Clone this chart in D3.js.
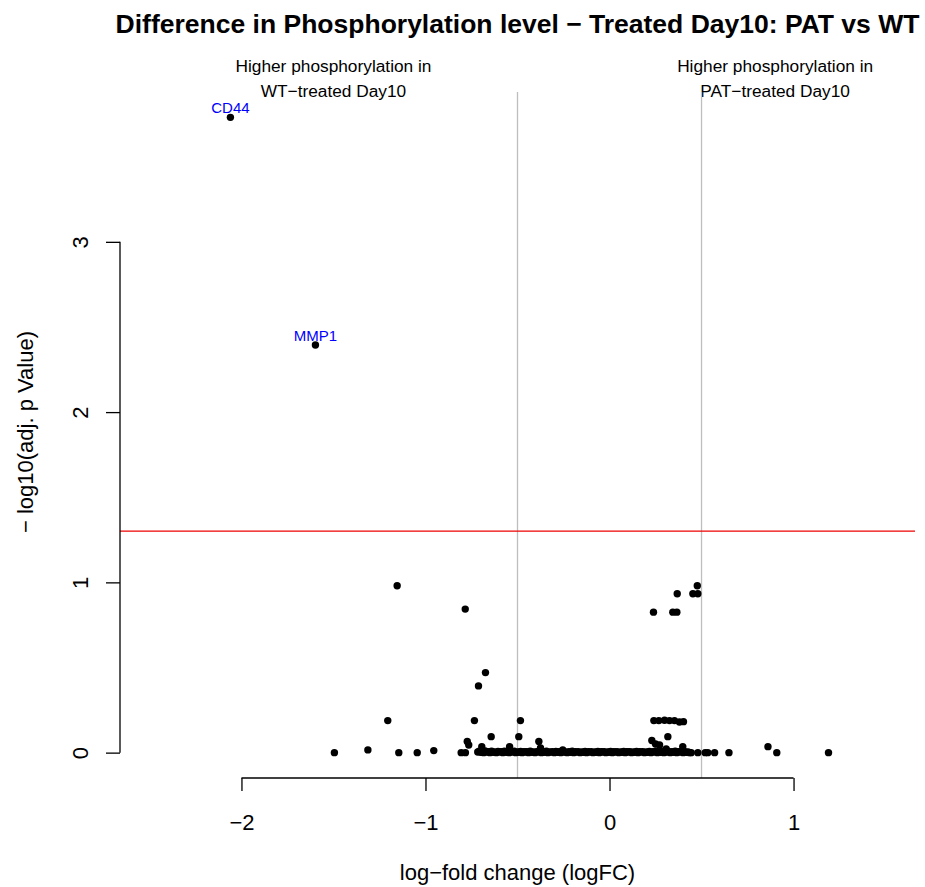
<!DOCTYPE html>
<html>
<head>
<meta charset="utf-8">
<script src="https://cdn.jsdelivr.net/npm/d3@7"></script>
<style>
body{margin:0;background:#fff;}
svg{display:block;font-family:"Liberation Sans",Arial,Helvetica,sans-serif;}
</style>
</head>
<body>
<svg id="chart" width="925" height="887"></svg>
<script>
// ---- data ----
const genes = ["CD44", "MMP1"];
const geneLogFC = [-2.06, -1.598];
const geneNegLogP = [3.731, 2.394];

const logFC = [
 -1.154, -0.784, -0.674, -0.712, -1.205, -0.734, -0.484, -0.493, -0.643, -0.384,
 -0.773, -0.765, -0.694, -0.543, -0.375, -0.254,
 -1.495, -1.313, -1.145, -1.045, -0.955, -0.806, -0.783,
 0.477, 0.368, 0.453, 0.480, 0.239, 0.344, 0.366,
 0.241, 0.268, 0.299, 0.326, 0.353, 0.380, 0.402,
 0.317, 0.230, 0.250, 0.272, 0.308, 0.398, 0.861,
 0.480, 0.520, 0.534, 0.571, 0.649, 0.909, 1.190
];
const negLogP = [
 0.980, 0.843, 0.470, 0.392, 0.188, 0.188, 0.188, 0.094, 0.094, 0.065,
 0.065, 0.045, 0.035, 0.035, 0.027, 0.016,
 0.000, 0.016, 0.000, 0.000, 0.012, 0.000, 0.000,
 0.980, 0.933, 0.933, 0.933, 0.825, 0.825, 0.825,
 0.188, 0.188, 0.190, 0.188, 0.188, 0.180, 0.182,
 0.094, 0.071, 0.051, 0.045, 0.022, 0.035, 0.035,
 0.000, 0.000, 0.000, 0.000, 0.000, 0.000, 0.000
];
// dense band of non-significant features near -log10(p) = 0
const bandLogFC = [
 -0.716, -0.700, -0.684, -0.668, -0.650, -0.633, -0.615, -0.598, -0.580, -0.562,
 -0.545, -0.527, -0.510, -0.492, -0.475, -0.458, -0.440, -0.422, -0.405, -0.388,
 -0.370, -0.352, -0.335, -0.318, -0.300, -0.282, -0.265, -0.248, -0.230, -0.212,
 -0.195, -0.178, -0.160, -0.142, -0.125, -0.108, -0.090, -0.072, -0.055, -0.038,
 -0.020, -0.003, 0.015, 0.032, 0.050, 0.068, 0.085, 0.102, 0.120, 0.138,
 0.155, 0.172, 0.190, 0.208, 0.225, 0.242, 0.260, 0.278, 0.295, 0.312,
 0.330, 0.348, 0.365, 0.382, 0.400, 0.418, 0.435, 0.444
];
const bandNegLogP = [
 0.004, 0.002, 0.000, 0.003, 0.000, 0.002, 0.000, 0.004, 0.000, 0.002,
 0.000, 0.003, 0.000, 0.002, 0.000, 0.004, 0.000, 0.002, 0.000, 0.003,
 0.000, 0.002, 0.000, 0.003, 0.000, 0.002, 0.000, 0.004, 0.000, 0.002,
 0.000, 0.003, 0.000, 0.002, 0.000, 0.003, 0.000, 0.002, 0.000, 0.004,
 0.000, 0.002, 0.000, 0.003, 0.000, 0.002, 0.000, 0.004, 0.000, 0.002,
 0.000, 0.003, 0.000, 0.002, 0.000, 0.003, 0.000, 0.002, 0.000, 0.004,
 0.000, 0.002, 0.000, 0.003, 0.000, 0.002, 0.000, 0.000
];
const band2LogFC = [
 -0.708, -0.692, -0.676, -0.659, -0.641, -0.624, -0.606, -0.589, -0.571, -0.553,
 -0.536, -0.518, -0.501, -0.483, -0.466, -0.449, -0.431, -0.413, -0.396, -0.379,
 -0.361, -0.343, -0.326, -0.309, -0.291, -0.273, -0.256, -0.239, -0.221, -0.203,
 -0.186, -0.169, -0.151, -0.133, -0.116, -0.099, -0.081, -0.063, -0.046, -0.029,
 -0.011, 0.006, 0.024, 0.041, 0.059, 0.077, 0.094, 0.111, 0.129, 0.147,
 0.164, 0.181, 0.199, 0.217, 0.234, 0.251, 0.269, 0.287, 0.304, 0.321,
 0.339, 0.357, 0.374, 0.391, 0.409, 0.427
];
const band2NegLogP = [
 0.008, 0.006, 0.010, 0.005, 0.008, 0.004, 0.007, 0.006, 0.009, 0.005,
 0.006, 0.008, 0.004, 0.007, 0.006, 0.005, 0.008, 0.004, 0.006, 0.007,
 0.005, 0.008, 0.004, 0.006, 0.007, 0.005, 0.008, 0.004, 0.006, 0.009,
 0.005, 0.006, 0.004, 0.007, 0.005, 0.006, 0.004, 0.007, 0.005, 0.006,
 0.004, 0.007, 0.005, 0.006, 0.004, 0.007, 0.005, 0.006, 0.004, 0.007,
 0.005, 0.006, 0.004, 0.007, 0.005, 0.008, 0.006, 0.009, 0.005, 0.007,
 0.006, 0.008, 0.005, 0.007, 0.006, 0.004
];
const xTicks = [-2, -1, 0, 1];
const yTicks = [0, 1, 2, 3];
const fcCutoffs = [-0.5, 0.5];
const pCutoff = 1.301; // -log10(0.05)
const titleText = "Difference in Phosphorylation level \u2212 Treated Day10: PAT vs WT";
const xLabel = "log\u2212fold change (logFC)";
const yLabel = "\u2212 log10(adj. p Value)";
const leftNote = ["Higher phosphorylation in", "WT\u2212treated Day10"];
const rightNote = ["Higher phosphorylation in", "PAT\u2212treated Day10"];

// ---- layout ----
const svg = d3.select("#chart");
const L = 120, R = 915, T = 92, B = 778;
const x = d3.scaleLinear().domain([-2.66, 1.66]).range([L, R]);
const y = d3.scaleLinear().domain([-0.149, 3.880]).range([B, T]);
const FONT = "Liberation Sans, Arial, sans-serif";

// title
svg.append("text").attr("x", (L + R) / 2).attr("y", 33)
  .attr("text-anchor", "middle").attr("font-weight", "bold").attr("font-size", 26.5)
  .text(titleText);

// notes
function note(lines, cx) {
  lines.forEach((t, i) => {
    svg.append("text").attr("x", cx).attr("y", 72 + i * 25)
      .attr("text-anchor", "middle").attr("font-size", 17.3).text(t);
  });
}
note(leftNote, x(-1.5));
note(rightNote, x(0.9));

// vertical cutoff lines
svg.selectAll("line.fc").data(fcCutoffs).enter().append("line")
  .attr("x1", d => x(d)).attr("x2", d => x(d)).attr("y1", T).attr("y2", B)
  .attr("stroke", "#bebebe").attr("stroke-width", 1.3);

// horizontal p-value line
svg.append("line").attr("x1", L).attr("x2", R).attr("y1", y(pCutoff)).attr("y2", y(pCutoff))
  .attr("stroke", "#ee0000").attr("stroke-width", 1.3);

// points
const pts = [];
logFC.forEach((v, i) => pts.push([v, negLogP[i]]));
bandLogFC.forEach((v, i) => pts.push([v, bandNegLogP[i]]));
band2LogFC.forEach((v, i) => pts.push([v, band2NegLogP[i]]));
geneLogFC.forEach((v, i) => pts.push([v, geneNegLogP[i]]));
svg.append("g").selectAll("circle").data(pts).enter().append("circle")
  .attr("cx", d => x(d[0])).attr("cy", d => y(d[1])).attr("r", 3.7).attr("fill", "#000");

// gene labels
svg.append("g").selectAll("text").data(genes).enter().append("text")
  .attr("x", (d, i) => x(geneLogFC[i])).attr("y", (d, i) => y(geneNegLogP[i]) - 4.5)
  .attr("text-anchor", "middle").attr("font-size", 15).attr("fill", "#0000ff").text(d => d);

// x axis
const xAxis = d3.axisBottom(x).tickValues(xTicks).tickSize(13)
  .tickFormat(d => d < 0 ? "\u2212" + Math.abs(d) : String(d));
const gx = svg.append("g").attr("transform", `translate(0,${B})`).call(xAxis);
gx.select(".domain").attr("d", `M${x(-2)},0H${x(1)}`).attr("stroke", "#000").attr("stroke-width", 1.3);
gx.selectAll(".tick line").attr("stroke", "#000").attr("stroke-width", 1.3);
gx.selectAll(".tick text").attr("font-size", 22).attr("font-family", FONT).attr("fill", "#000")
  .attr("y", 52).attr("dy", 0);

// y axis
const yAxis = d3.axisLeft(y).tickValues(yTicks).tickSize(14).tickPadding(0).tickFormat(d => String(d));
const gy = svg.append("g").attr("transform", `translate(${L},0)`).call(yAxis);
gy.select(".domain").attr("d", `M0,${y(0)}V${y(3)}`).attr("stroke", "#000").attr("stroke-width", 1.3);
gy.selectAll(".tick line").attr("stroke", "#000").attr("stroke-width", 1.3);
gy.selectAll(".tick text").attr("font-size", 22).attr("font-family", FONT)
  .attr("fill", "#000").attr("x", 0).attr("dy", 0).attr("text-anchor", "middle")
  .attr("transform", "translate(-32,0) rotate(-90)");

// axis labels
svg.append("text").attr("x", (L + R) / 2).attr("y", 880).attr("text-anchor", "middle")
  .attr("font-size", 22).text(xLabel);
svg.append("text").attr("transform", `translate(33,432) rotate(-90)`)
  .attr("text-anchor", "middle").attr("font-size", 22).text(yLabel);
</script>
</body>
</html>
